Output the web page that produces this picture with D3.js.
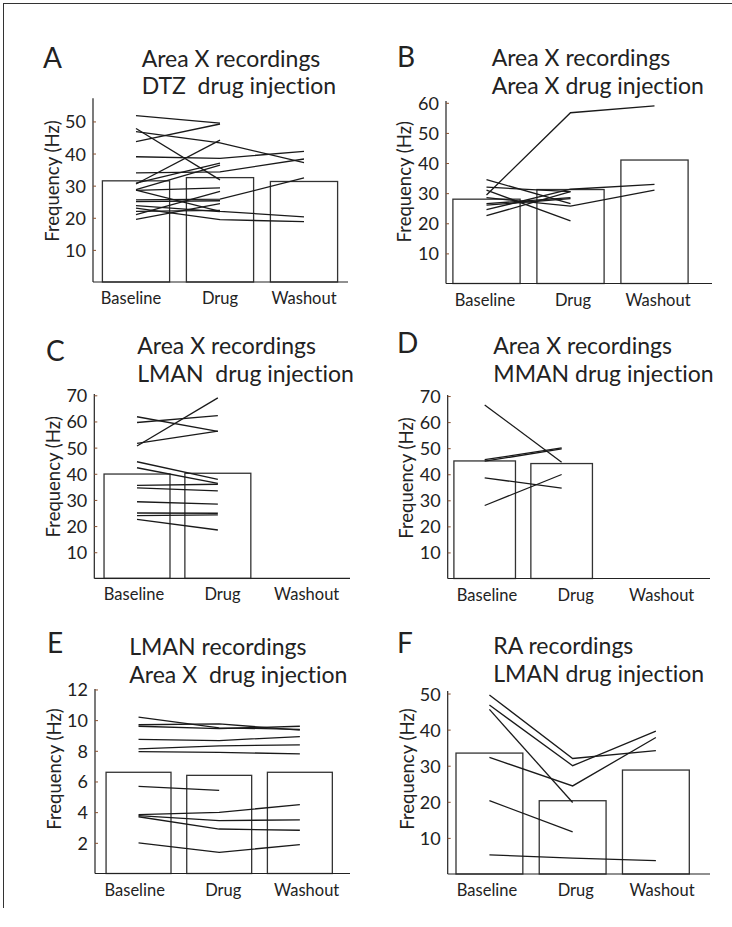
<!DOCTYPE html>
<html><head><meta charset="utf-8">
<script src="https://cdn.jsdelivr.net/npm/d3@7"></script>
<style>body{margin:0;background:#fff}svg{display:block}text{font-family:Lato,"Open Sans",sans-serif;fill:#222;font-variant-ligatures:none;font-feature-settings:"liga" 0,"clig" 0}</style>
</head><body>
<script>
// ---------- DATA ----------
const categories = ["Baseline", "Drug", "Washout"];
const panelLetters = ["A", "B", "C", "D", "E", "F"];
const titles = [
  ["Area X recordings", "DTZ  drug injection"],
  ["Area X recordings", "Area X drug injection"],
  ["Area X recordings", "LMAN  drug injection"],
  ["Area X recordings", "MMAN drug injection"],
  ["LMAN recordings", "Area X  drug injection"],
  ["RA recordings", "LMAN drug injection"]
];
const yLabel = "Frequency (Hz)";
const ticksA = [10, 20, 30, 40, 50];
const ticksB = [10, 20, 30, 40, 50, 60];
const ticksC = [10, 20, 30, 40, 50, 60, 70];
const ticksD = [10, 20, 30, 40, 50, 60, 70];
const ticksE = [2, 4, 6, 8, 10, 12];
const ticksF = [10, 20, 30, 40, 50];

const barsA = [31.5, 32.5, 31.3];
const barsB = [28.0, 31.2, 41.0];
const barsC = [39.9, 40.2, 0];
const barsD = [45.1, 44.1, 0];
const barsE = [6.6, 6.4, 6.6];
const barsF = [33.5, 20.3, 28.8];

// each row: values for Baseline, Drug, (Washout)
const linesA = [
  [46.8, 43.3, 37.2], [39.0, 38.5, 40.7], [34.0, 34.3, 38.3],
  [28.6, 22.0, 20.3], [25.6, 25.8, 32.4], [23.0, 19.4, 18.8],
  [51.8, 49.5], [47.8, 31.8], [43.7, 49.2], [30.5, 44.2],
  [30.8, 37.0], [28.8, 36.4], [28.5, 29.3], [25.0, 25.3],
  [23.8, 21.9], [21.0, 28.2], [19.5, 24.4], [22.0, 22.3]
];
const linesB = [
  [29.4, 56.7, 59.0], [24.5, 31.3, 32.9], [28.5, 25.7, 31.0],
  [34.5, 26.5], [32.0, 30.5], [26.5, 28.5], [31.0, 20.8],
  [22.5, 30.5], [26.0, 28.2]
];
const linesC = [
  [61.8, 56.2], [59.6, 62.2], [50.6, 69.0], [51.6, 56.3],
  [44.6, 37.9], [42.3, 36.3], [35.6, 36.0], [34.6, 33.5],
  [29.3, 28.4], [25.0, 24.9], [24.0, 24.3], [22.6, 18.5]
];
const linesD = [
  [66.6, 44.6], [45.6, 50.1], [45.0, 49.7], [38.6, 34.7], [28.0, 39.9]
];
const linesE = [
  [10.2, 9.5, 9.4], [9.7, 9.75, 9.35], [9.6, 9.45, 9.6],
  [8.75, 8.67, 8.93], [8.12, 8.32, 8.39], [7.95, 7.9, 7.8],
  [5.68, 5.42], [3.84, 3.99, 4.49], [3.78, 3.45, 3.5],
  [3.7, 2.9, 2.82], [2.0, 1.38, 1.88]
];
const linesF = [
  [49.6, 32.0, 34.2], [46.8, 30.0, 39.6], [32.3, 24.4, 37.8],
  [45.6, 19.8], [20.3, 11.7], [5.3, 4.4, 3.7]
];

// ---------- LAYOUT ----------
const panels = [
  {bars: barsA, lines: linesA, ticks: ticksA, top: 57.2, y0: 282, yT: 98.3, ax: 93, axEnd: 348, band: [94, 346], pad: 0.2,
   labX: [131, 220, 304], letter: [43, 68], title: [141.7, 66.7], yl: [59, 181]},
  {bars: barsB, lines: linesB, ticks: ticksB, top: 60.6, y0: 283.5, yT: 101, ax: 446, axEnd: 712, band: [444.5, 696.5], pad: 0.2,
   labX: [485, 573, 658], letter: [397, 67.3], title: [491.7, 66], yl: [411, 181.7]},
  {bars: barsC, lines: linesC, ticks: ticksC, top: 70.5, y0: 578.4, yT: 394, ax: 94.3, axEnd: 350, band: [96.6, 339.1], pad: 0.184,
   labX: [134, 222.5, 306.7], letter: [46, 360.7], title: [137.3, 354.3], yl: [59.5, 476.7]},
  {bars: barsD, lines: linesD, ticks: ticksD, top: 70.4, y0: 578.5, yT: 395, ax: 447.7, axEnd: 710, band: [446.2, 677.1], pad: 0.2,
   labX: [487, 575.7, 661.7], letter: [397, 353.3], title: [493.3, 354.3], yl: [413, 478]},
  {bars: barsE, lines: linesE, ticks: ticksE, top: 12.03, y0: 873.5, yT: 689, ax: 95, axEnd: 350, band: [98.2, 340.2], pad: 0.195,
   labX: [134.7, 223.3, 306.7], letter: [47, 653.3], title: [129.3, 655], yl: [61, 769]},
  {bars: barsF, lines: linesF, ticks: ticksF, top: 50.7, y0: 874, yT: 691, ax: 447.7, axEnd: 710, band: [447.8, 697.5], pad: 0.197,
   labX: [487, 575.8, 662], letter: [397, 653.3], title: [493.3, 654.3], yl: [414, 769]}
];

const W = 732, H = 927;
const svg = d3.select("body").append("svg").attr("width", W).attr("height", H);

// figure frame (top and left)
svg.append("line").attr("x1", 3).attr("x2", W).attr("y1", 3.5).attr("y2", 3.5).attr("stroke", "#333").attr("stroke-width", 1);
svg.append("line").attr("x1", 3.5).attr("x2", 3.5).attr("y1", 3).attr("y2", 908).attr("stroke", "#333").attr("stroke-width", 1);

panels.forEach((p, i) => {
  const g = svg.append("g");
  const y = d3.scaleLinear().domain([0, p.top]).range([p.y0, p.yT]);
  const x = d3.scaleBand().domain(categories).range(p.band).paddingInner(p.pad).paddingOuter(p.pad / 2);
  const xl = d3.scaleOrdinal().domain(categories).range(p.labX);

  // bars
  g.selectAll("rect.bar").data(p.bars).join("rect")
    .attr("x", (d, j) => x(categories[j]))
    .attr("y", d => y(d))
    .attr("width", x.bandwidth())
    .attr("height", d => y(0) - y(d))
    .attr("fill", "#fff").attr("stroke", "#333").attr("stroke-width", 1.3);

  // lines
  const line = d3.line().x((d, j) => x(categories[j]) + x.bandwidth() / 2).y(d => y(d));
  g.selectAll("path.ln").data(p.lines).join("path")
    .attr("d", d => line(d))
    .attr("fill", "none").attr("stroke", "#1a1a1a").attr("stroke-width", 1.3);

  // axes
  g.append("line").attr("x1", p.ax).attr("x2", p.ax).attr("y1", p.yT).attr("y2", p.y0)
    .attr("stroke", "#222").attr("stroke-width", 1.2);
  g.append("line").attr("x1", p.ax).attr("x2", p.axEnd).attr("y1", p.y0).attr("y2", p.y0)
    .attr("stroke", "#222").attr("stroke-width", 1.2);
  const yAxis = d3.axisLeft(y).tickValues(p.ticks).tickSize(-3).tickPadding(7);
  const ag = g.append("g").attr("transform", `translate(${p.ax},0)`).call(yAxis);
  ag.select(".domain").remove();
  ag.selectAll(".tick line").attr("stroke", "#8a5230").attr("stroke-width", 1);
  ag.selectAll(".tick text").attr("font-size", 18).attr("font-family", "Lato").attr("fill", "#222").attr("dy", "0.36em");

  // x labels
  g.selectAll("text.xl").data(categories).join("text")
    .attr("x", d => xl(d)).attr("y", p.y0 + 22)
    .attr("text-anchor", "middle").attr("font-size", 16.5).text(d => d);

  // y label
  g.append("text").attr("transform", `translate(${p.yl[0]},${p.yl[1]}) rotate(-90)`)
    .attr("text-anchor", "middle").attr("font-size", 18.5).text(yLabel);

  // panel letter
  g.append("text").attr("x", p.letter[0]).attr("y", p.letter[1]).attr("font-size", 28).text(panelLetters[i]);

  // titles
  g.append("text").attr("x", p.title[0]).attr("y", p.title[1]).attr("font-size", 23).text(titles[i][0]);
  g.append("text").attr("x", p.title[0]).attr("y", p.title[1] + 27.5).attr("font-size", 23)
    .attr("xml:space", "preserve").style("white-space", "pre").text(titles[i][1]);
});
</script>
</body></html>
